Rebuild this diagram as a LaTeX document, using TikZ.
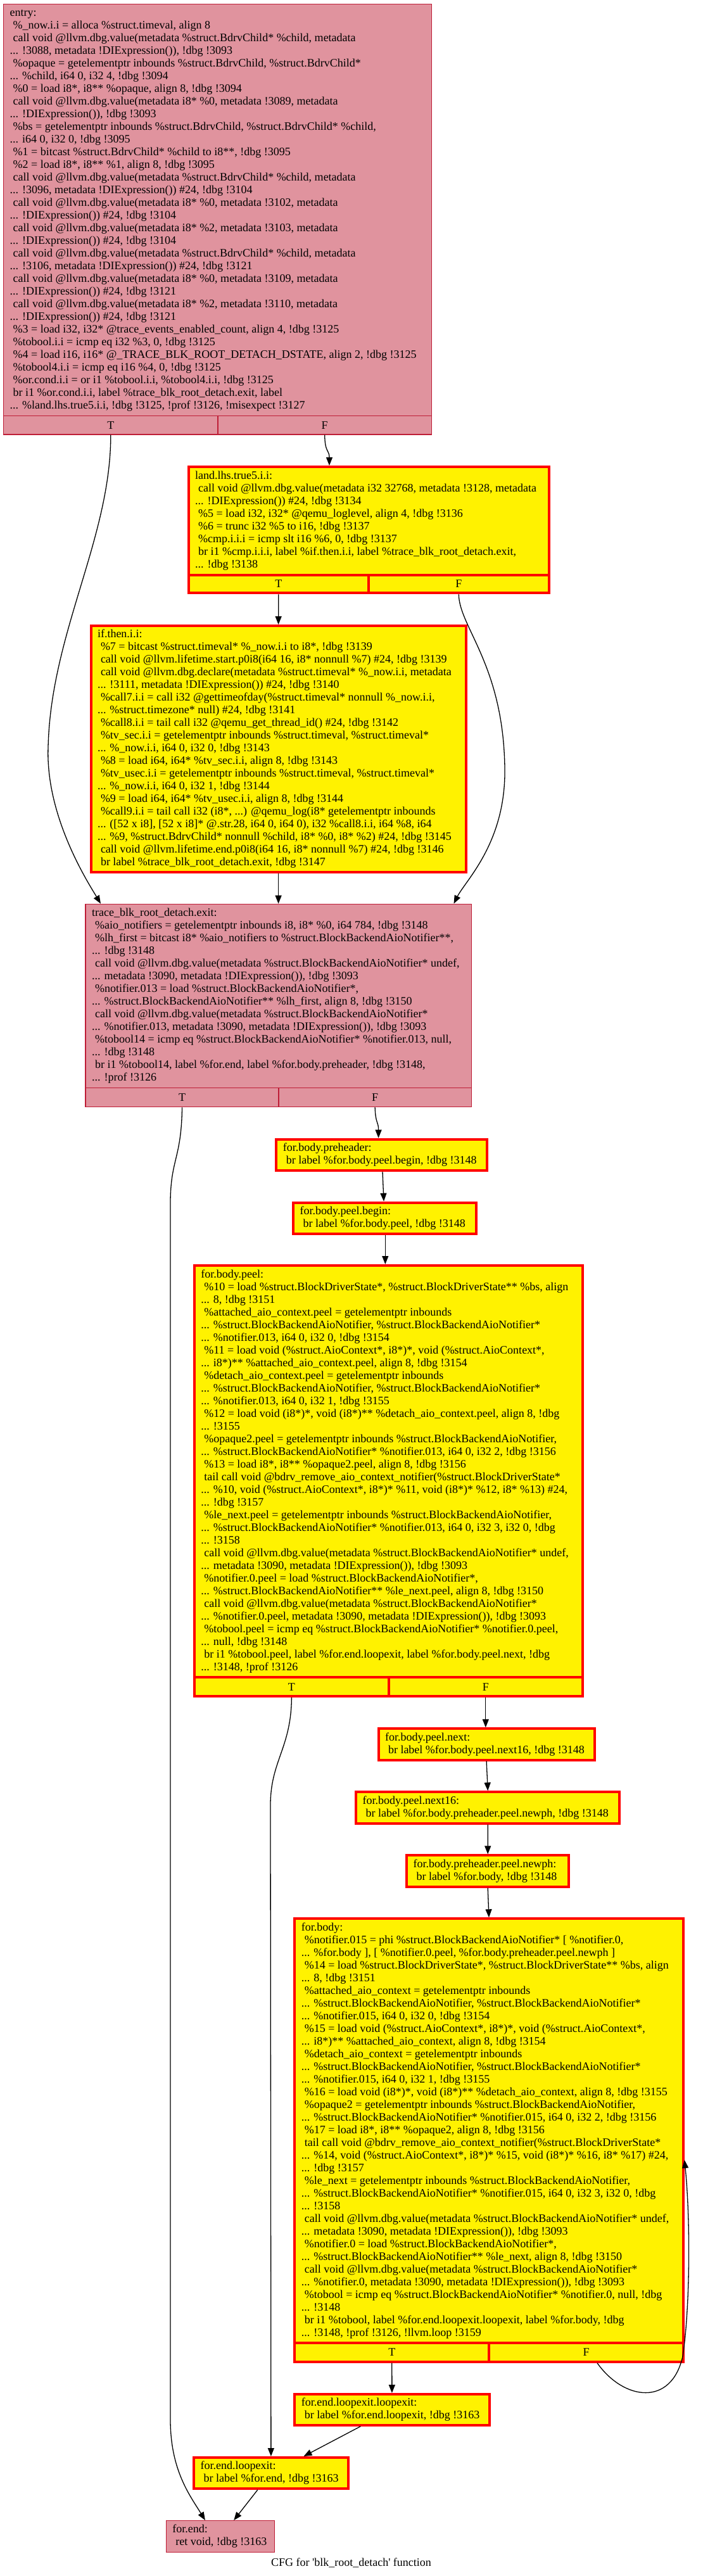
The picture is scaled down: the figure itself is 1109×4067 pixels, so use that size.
\documentclass[tikz,border=0pt]{standalone}
\usepackage{fontspec}
\setmainfont{Liberation Serif}
\usetikzlibrary{arrows.meta}
\definecolor{pinkfill}{RGB}{224,147,158}
\definecolor{pinkline}{RGB}{190,30,55}
\newcommand\codefont{\fontsize{18}{20}\selectfont}
\newcommand\Lsp{\hspace*{5pt}}
% body of a block: name, style, half line width, L, R, top (outer), bottom (path)
\newcommand\bodynode[7]{%
  \pgfmathsetmacro\qqbw{#5-#4-2*#3}%
  \pgfmathsetmacro\qqbh{#7-#6-#3}%
  \pgfmathsetmacro\qqbx{(#4+#5)/2}%
  \pgfmathsetmacro\qqby{(#6+#3+#7)/2}%
  \node[#2, minimum width=\qqbw pt, minimum height=\qqbh pt] (#1) at (\qqbx,\qqby) {};%
}
% T/F row: name, style, half line width, L, R, S (separator), B (outer bottom), D (divider)
\newcommand\tfnodes[8]{%
  \pgfmathsetmacro\qqth{#7-#3-#6}%
  \pgfmathsetmacro\qqty{(#6+#7-#3)/2}%
  \pgfmathsetmacro\qqtw{#8-#4-#3}%
  \pgfmathsetmacro\qqtx{(#4+#3+#8)/2}%
  \pgfmathsetmacro\qqfw{#5-#3-#8}%
  \pgfmathsetmacro\qqfx{(#8+#5-#3)/2}%
  \node[#2, minimum width=\qqtw pt, minimum height=\qqth pt] (#1T) at (\qqtx,\qqty) {T};%
  \node[#2, minimum width=\qqfw pt, minimum height=\qqth pt] (#1F) at (\qqfx,\qqty) {F};%
}
\begin{document}
\begin{tikzpicture}[x=1pt,y=-1pt,
  pinkbox/.style={rectangle, draw=pinkline, fill=pinkfill, line width=1.3pt, inner sep=0pt, font=\codefont},
  yelbox/.style={rectangle, draw=red, fill=yellow, line width=4pt, inner sep=0pt, font=\codefont},
  txt/.style={anchor=west, align=left, inner sep=0pt, font=\codefont},
  edge/.style={line width=1.3pt, -{Triangle[length=13pt,width=10pt]}}]
\path[use as bounding box, fill=white] (0,0) rectangle (1109,4067);

% ---------- entry ----------
\bodynode{entry}{pinkbox}{0.65}{5}{682}{6}{656.7}
\tfnodes{entry}{pinkbox}{0.65}{5}{682}{656.7}{686.7}{344}
\node[txt] (entry-t) at ([xshift=10.5pt]entry.west) {\strut entry:\\
\Lsp\%\_now.i.i = alloca \%struct.timeval, align 8\\
\Lsp call void @llvm.dbg.value(metadata \%struct.BdrvChild* \%child, metadata\\
... !3088, metadata !DIExpression()), !dbg !3093\\
\Lsp\%opaque = getelementptr inbounds \%struct.BdrvChild, \%struct.BdrvChild*\\
... \%child, i64 0, i32 4, !dbg !3094\\
\Lsp\%0 = load i8*, i8** \%opaque, align 8, !dbg !3094\\
\Lsp call void @llvm.dbg.value(metadata i8* \%0, metadata !3089, metadata\\
... !DIExpression()), !dbg !3093\\
\Lsp\%bs = getelementptr inbounds \%struct.BdrvChild, \%struct.BdrvChild* \%child,\\
... i64 0, i32 0, !dbg !3095\\
\Lsp\%1 = bitcast \%struct.BdrvChild* \%child to i8**, !dbg !3095\\
\Lsp\%2 = load i8*, i8** \%1, align 8, !dbg !3095\\
\Lsp call void @llvm.dbg.value(metadata \%struct.BdrvChild* \%child, metadata\\
... !3096, metadata !DIExpression()) \#24, !dbg !3104\\
\Lsp call void @llvm.dbg.value(metadata i8* \%0, metadata !3102, metadata\\
... !DIExpression()) \#24, !dbg !3104\\
\Lsp call void @llvm.dbg.value(metadata i8* \%2, metadata !3103, metadata\\
... !DIExpression()) \#24, !dbg !3104\\
\Lsp call void @llvm.dbg.value(metadata \%struct.BdrvChild* \%child, metadata\\
... !3106, metadata !DIExpression()) \#24, !dbg !3121\\
\Lsp call void @llvm.dbg.value(metadata i8* \%0, metadata !3109, metadata\\
... !DIExpression()) \#24, !dbg !3121\\
\Lsp call void @llvm.dbg.value(metadata i8* \%2, metadata !3110, metadata\\
... !DIExpression()) \#24, !dbg !3121\\
\Lsp\%3 = load i32, i32* @trace\_events\_enabled\_count, align 4, !dbg !3125\\
\Lsp\%tobool.i.i = icmp eq i32 \%3, 0, !dbg !3125\\
\Lsp\%4 = load i16, i16* @\_TRACE\_BLK\_ROOT\_DETACH\_DSTATE, align 2, !dbg !3125\\
\Lsp\%tobool4.i.i = icmp eq i16 \%4, 0, !dbg !3125\\
\Lsp\%or.cond.i.i = or i1 \%tobool.i.i, \%tobool4.i.i, !dbg !3125\\
\Lsp br i1 \%or.cond.i.i, label \%trace\_blk\_root\_detach.exit, label\\
... \%land.lhs.true5.i.i, !dbg !3125, !prof !3126, !misexpect !3127\strut};

% ---------- land.lhs.true5.i.i ----------
\bodynode{land}{yelbox}{2}{295.6}{868.6}{735}{907.7}
\tfnodes{land}{yelbox}{2}{295.6}{868.6}{907.7}{938.3}{582}
\node[txt] (land-t) at ([xshift=12.3pt]land.west) {\strut land.lhs.true5.i.i:\\
\Lsp call void @llvm.dbg.value(metadata i32 32768, metadata !3128, metadata\\
... !DIExpression()) \#24, !dbg !3134\\
\Lsp\%5 = load i32, i32* @qemu\_loglevel, align 4, !dbg !3136\\
\Lsp\%6 = trunc i32 \%5 to i16, !dbg !3137\\
\Lsp\%cmp.i.i.i = icmp slt i16 \%6, 0, !dbg !3137\\
\Lsp br i1 \%cmp.i.i.i, label \%if.then.i.i, label \%trace\_blk\_root\_detach.exit,\\
... !dbg !3138\strut};

% ---------- if.then.i.i ----------
\bodynode{ifthen}{yelbox}{2}{141.5}{737.7}{986}{1379-2}
\node[txt] (ifthen-t) at ([xshift=12.3pt]ifthen.west) {\strut if.then.i.i:\\
\Lsp\%7 = bitcast \%struct.timeval* \%\_now.i.i to i8*, !dbg !3139\\
\Lsp call void @llvm.lifetime.start.p0i8(i64 16, i8* nonnull \%7) \#24, !dbg !3139\\
\Lsp call void @llvm.dbg.declare(metadata \%struct.timeval* \%\_now.i.i, metadata\\
... !3111, metadata !DIExpression()) \#24, !dbg !3140\\
\Lsp\%call7.i.i = call i32 @gettimeofday(\%struct.timeval* nonnull \%\_now.i.i,\\
... \%struct.timezone* null) \#24, !dbg !3141\\
\Lsp\%call8.i.i = tail call i32 @qemu\_get\_thread\_id() \#24, !dbg !3142\\
\Lsp\%tv\_sec.i.i = getelementptr inbounds \%struct.timeval, \%struct.timeval*\\
... \%\_now.i.i, i64 0, i32 0, !dbg !3143\\
\Lsp\%8 = load i64, i64* \%tv\_sec.i.i, align 8, !dbg !3143\\
\Lsp\%tv\_usec.i.i = getelementptr inbounds \%struct.timeval, \%struct.timeval*\\
... \%\_now.i.i, i64 0, i32 1, !dbg !3144\\
\Lsp\%9 = load i64, i64* \%tv\_usec.i.i, align 8, !dbg !3144\\
\Lsp\%call9.i.i = tail call i32 (i8*, ...) @qemu\_log(i8* getelementptr inbounds\\
... ([52 x i8], [52 x i8]* @.str.28, i64 0, i64 0), i32 \%call8.i.i, i64 \%8, i64\\
... \%9, \%struct.BdrvChild* nonnull \%child, i8* \%0, i8* \%2) \#24, !dbg !3145\\
\Lsp call void @llvm.lifetime.end.p0i8(i64 16, i8* nonnull \%7) \#24, !dbg !3146\\
\Lsp br label \%trace\_blk\_root\_detach.exit, !dbg !3147\strut};

% ---------- trace_blk_root_detach.exit ----------
\bodynode{trace}{pinkbox}{0.65}{134.4}{744.8}{1426.7}{1717.7}
\tfnodes{trace}{pinkbox}{0.65}{134.4}{744.8}{1717.7}{1748.3}{440}
\node[txt] (trace-t) at ([xshift=10.5pt]trace.west) {\strut trace\_blk\_root\_detach.exit:\\
\Lsp\%aio\_notifiers = getelementptr inbounds i8, i8* \%0, i64 784, !dbg !3148\\
\Lsp\%lh\_first = bitcast i8* \%aio\_notifiers to \%struct.BlockBackendAioNotifier**,\\
... !dbg !3148\\
\Lsp call void @llvm.dbg.value(metadata \%struct.BlockBackendAioNotifier* undef,\\
... metadata !3090, metadata !DIExpression()), !dbg !3093\\
\Lsp\%notifier.013 = load \%struct.BlockBackendAioNotifier*,\\
... \%struct.BlockBackendAioNotifier** \%lh\_first, align 8, !dbg !3150\\
\Lsp call void @llvm.dbg.value(metadata \%struct.BlockBackendAioNotifier*\\
... \%notifier.013, metadata !3090, metadata !DIExpression()), !dbg !3093\\
\Lsp\%tobool14 = icmp eq \%struct.BlockBackendAioNotifier* \%notifier.013, null,\\
... !dbg !3148\\
\Lsp br i1 \%tobool14, label \%for.end, label \%for.body.preheader, !dbg !3148,\\
... !prof !3126\strut};

% ---------- for.body.preheader ----------
\bodynode{pre}{yelbox}{2}{434.3}{771}{1796.7}{1850-2}
\node[txt] (pre-t) at ([xshift=12.3pt]pre.west) {\strut for.body.preheader:\\
\Lsp br label \%for.body.peel.begin, !dbg !3148\strut};

% ---------- for.body.peel.begin ----------
\bodynode{pb}{yelbox}{2}{461.2}{754}{1896.7}{1950-2}
\node[txt] (pb-t) at ([xshift=12.3pt]pb.west) {\strut for.body.peel.begin:\\
\Lsp br label \%for.body.peel, !dbg !3148\strut};

% ---------- for.body.peel ----------
\bodynode{peel}{yelbox}{2}{304.8}{921.6}{1996}{2648.3}
\tfnodes{peel}{yelbox}{2}{304.8}{921.6}{2648.3}{2680}{614}
\node[txt] (peel-t) at ([xshift=12.3pt]peel.west) {\strut for.body.peel:\\
\Lsp\%10 = load \%struct.BlockDriverState*, \%struct.BlockDriverState** \%bs, align\\
... 8, !dbg !3151\\
\Lsp\%attached\_aio\_context.peel = getelementptr inbounds\\
... \%struct.BlockBackendAioNotifier, \%struct.BlockBackendAioNotifier*\\
... \%notifier.013, i64 0, i32 0, !dbg !3154\\
\Lsp\%11 = load void (\%struct.AioContext*, i8*)*, void (\%struct.AioContext*,\\
... i8*)** \%attached\_aio\_context.peel, align 8, !dbg !3154\\
\Lsp\%detach\_aio\_context.peel = getelementptr inbounds\\
... \%struct.BlockBackendAioNotifier, \%struct.BlockBackendAioNotifier*\\
... \%notifier.013, i64 0, i32 1, !dbg !3155\\
\Lsp\%12 = load void (i8*)*, void (i8*)** \%detach\_aio\_context.peel, align 8, !dbg\\
... !3155\\
\Lsp\%opaque2.peel = getelementptr inbounds \%struct.BlockBackendAioNotifier,\\
... \%struct.BlockBackendAioNotifier* \%notifier.013, i64 0, i32 2, !dbg !3156\\
\Lsp\%13 = load i8*, i8** \%opaque2.peel, align 8, !dbg !3156\\
\Lsp tail call void @bdrv\_remove\_aio\_context\_notifier(\%struct.BlockDriverState*\\
... \%10, void (\%struct.AioContext*, i8*)* \%11, void (i8*)* \%12, i8* \%13) \#24,\\
... !dbg !3157\\
\Lsp\%le\_next.peel = getelementptr inbounds \%struct.BlockBackendAioNotifier,\\
... \%struct.BlockBackendAioNotifier* \%notifier.013, i64 0, i32 3, i32 0, !dbg\\
... !3158\\
\Lsp call void @llvm.dbg.value(metadata \%struct.BlockBackendAioNotifier* undef,\\
... metadata !3090, metadata !DIExpression()), !dbg !3093\\
\Lsp\%notifier.0.peel = load \%struct.BlockBackendAioNotifier*,\\
... \%struct.BlockBackendAioNotifier** \%le\_next.peel, align 8, !dbg !3150\\
\Lsp call void @llvm.dbg.value(metadata \%struct.BlockBackendAioNotifier*\\
... \%notifier.0.peel, metadata !3090, metadata !DIExpression()), !dbg !3093\\
\Lsp\%tobool.peel = icmp eq \%struct.BlockBackendAioNotifier* \%notifier.0.peel,\\
... null, !dbg !3148\\
\Lsp br i1 \%tobool.peel, label \%for.end.loopexit, label \%for.body.peel.next, !dbg\\
... !3148, !prof !3126\strut};

% ---------- for.body.peel.next ----------
\bodynode{pn}{yelbox}{2}{595.5}{940.7}{2727.3}{2780.7-2}
\node[txt] (pn-t) at ([xshift=12.3pt]pn.west) {\strut for.body.peel.next:\\
\Lsp br label \%for.body.peel.next16, !dbg !3148\strut};

% ---------- for.body.peel.next16 ----------
\bodynode{pn16}{yelbox}{2}{560.2}{980.3}{2827.3}{2880.7-2}
\node[txt] (pn16-t) at ([xshift=12.3pt]pn16.west) {\strut for.body.peel.next16:\\
\Lsp br label \%for.body.preheader.peel.newph, !dbg !3148\strut};

% ---------- for.body.preheader.peel.newph ----------
\bodynode{newph}{yelbox}{2}{640}{900.4}{2927.3}{2980.7-2}
\node[txt] (newph-t) at ([xshift=12.3pt]newph.west) {\strut for.body.preheader.peel.newph:\\
\Lsp br label \%for.body, !dbg !3148\strut};

% ---------- for.body ----------
\bodynode{fb}{yelbox}{2}{463.3}{1080.7}{3027.3}{3699.3}
\tfnodes{fb}{yelbox}{2}{463.3}{1080.7}{3699.3}{3730.7}{772.3}
\node[txt] (fb-t) at ([xshift=12.3pt]fb.west) {\strut for.body:\\
\Lsp\%notifier.015 = phi \%struct.BlockBackendAioNotifier* [ \%notifier.0,\\
... \%for.body ], [ \%notifier.0.peel, \%for.body.preheader.peel.newph ]\\
\Lsp\%14 = load \%struct.BlockDriverState*, \%struct.BlockDriverState** \%bs, align\\
... 8, !dbg !3151\\
\Lsp\%attached\_aio\_context = getelementptr inbounds\\
... \%struct.BlockBackendAioNotifier, \%struct.BlockBackendAioNotifier*\\
... \%notifier.015, i64 0, i32 0, !dbg !3154\\
\Lsp\%15 = load void (\%struct.AioContext*, i8*)*, void (\%struct.AioContext*,\\
... i8*)** \%attached\_aio\_context, align 8, !dbg !3154\\
\Lsp\%detach\_aio\_context = getelementptr inbounds\\
... \%struct.BlockBackendAioNotifier, \%struct.BlockBackendAioNotifier*\\
... \%notifier.015, i64 0, i32 1, !dbg !3155\\
\Lsp\%16 = load void (i8*)*, void (i8*)** \%detach\_aio\_context, align 8, !dbg !3155\\
\Lsp\%opaque2 = getelementptr inbounds \%struct.BlockBackendAioNotifier,\\
... \%struct.BlockBackendAioNotifier* \%notifier.015, i64 0, i32 2, !dbg !3156\\
\Lsp\%17 = load i8*, i8** \%opaque2, align 8, !dbg !3156\\
\Lsp tail call void @bdrv\_remove\_aio\_context\_notifier(\%struct.BlockDriverState*\\
... \%14, void (\%struct.AioContext*, i8*)* \%15, void (i8*)* \%16, i8* \%17) \#24,\\
... !dbg !3157\\
\Lsp\%le\_next = getelementptr inbounds \%struct.BlockBackendAioNotifier,\\
... \%struct.BlockBackendAioNotifier* \%notifier.015, i64 0, i32 3, i32 0, !dbg\\
... !3158\\
\Lsp call void @llvm.dbg.value(metadata \%struct.BlockBackendAioNotifier* undef,\\
... metadata !3090, metadata !DIExpression()), !dbg !3093\\
\Lsp\%notifier.0 = load \%struct.BlockBackendAioNotifier*,\\
... \%struct.BlockBackendAioNotifier** \%le\_next, align 8, !dbg !3150\\
\Lsp call void @llvm.dbg.value(metadata \%struct.BlockBackendAioNotifier*\\
... \%notifier.0, metadata !3090, metadata !DIExpression()), !dbg !3093\\
\Lsp\%tobool = icmp eq \%struct.BlockBackendAioNotifier* \%notifier.0, null, !dbg\\
... !3148\\
\Lsp br i1 \%tobool, label \%for.end.loopexit.loopexit, label \%for.body, !dbg\\
... !3148, !prof !3126, !llvm.loop !3159\strut};

% ---------- for.end.loopexit.loopexit ----------
\bodynode{fell}{yelbox}{2}{463.3}{774.5}{3778}{3830.7-2}
\node[txt] (fell-t) at ([xshift=12.3pt]fell.west) {\strut for.end.loopexit.loopexit:\\
\Lsp br label \%for.end.loopexit, !dbg !3163\strut};

% ---------- for.end.loopexit ----------
\bodynode{fel}{yelbox}{2}{304.1}{551.7}{3878}{3931-2}
\node[txt] (fel-t) at ([xshift=12.3pt]fel.west) {\strut for.end.loopexit:\\
\Lsp br label \%for.end, !dbg !3163\strut};

% ---------- for.end ----------
\bodynode{forend}{pinkbox}{0.65}{261.7}{434.3}{3979}{4030-0.65}
\node[txt] (forend-t) at ([xshift=10.5pt]forend.west) {\strut for.end:\\
\Lsp ret void, !dbg !3163\strut};

% ---------- caption ----------
\node[font=\codefont] (caption) at (554.5,4046) {CFG for \textquotesingle blk\_root\_detach\textquotesingle\ function};

% ---------- edges ----------
\draw[edge] (entryT.south) .. controls (175,850) and (80,1000) .. (76,1180)
  .. controls (72,1290) and (140,1395) .. (trace.north -| 159,0);
\draw[edge] (entryF.south) .. controls (513,715) and (520,710) .. (land.north -| 520,0);
\draw[edge] (landT.south) -- (ifthen.north);
\draw[edge] (landF.south) .. controls (725,990) and (795,1050) .. (797,1213)
  .. controls (799,1330) and (735,1390) .. (trace.north -| 716.5,0);
\draw[edge] (ifthen.south) -- (trace.north);
\draw[edge] (traceT.south) .. controls (286.5,1830) and (269,1830) .. (269,1900)
  -- (269,3820) .. controls (269,3900) and (300,3940) .. (forend.north -| 324,0);
\draw[edge] (traceF.south) .. controls (593,1775) and (597.6,1770) .. (pre.north -| 597.6,0);
\draw[edge] (pre.south -| 604,0) -- (pb.north -| 606,0);
\draw[edge] (pb.south -| 608.3,0) -- (peel.north -| 608.3,0);
\draw[edge] (peelT.south) .. controls (459.8,2760) and (427,2780) .. (427,2850) -- (fel.north);
\draw[edge] (peelF.south) -- (pn.north -| peelF.south);
\draw[edge] (pn.south) -- (pn16.north);
\draw[edge] (pn16.south) -- (newph.north);
\draw[edge] (newph.south) -- (fb.north);
\draw[edge] (fbT.south) -- (fell.north);
\draw[edge] (fbF.south -| 943,0) .. controls (985,3790) and (1060,3800) .. (1078,3720)
  .. controls (1090,3640) and (1090,3500) .. (fb.east |- 0,3410);
\draw[edge] (fell.south -| 569.3,0) -- (fel.north -| 479.5,0);
\draw[edge] (fel.south -| 406.7,0) -- (forend.north -| 369.2,0);
\end{tikzpicture}
\end{document}
